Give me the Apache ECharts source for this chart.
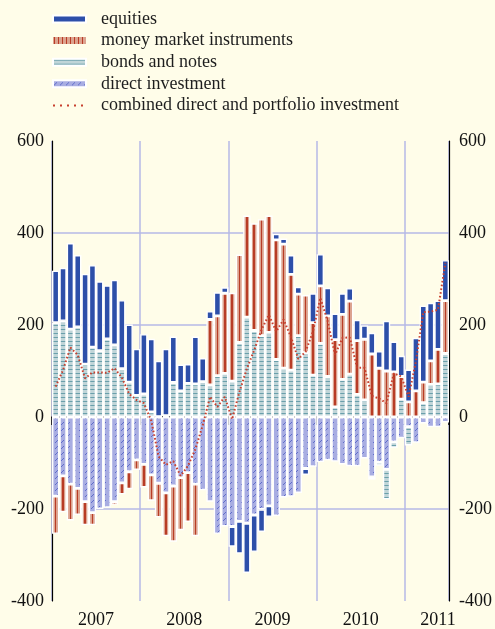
<!DOCTYPE html>
<html>
<head>
<meta charset="utf-8">
<script src="https://cdn.jsdelivr.net/npm/echarts@6/dist/echarts.min.js"></script>
<style>
  html, body { margin: 0; padding: 0; background: #fffde9; }
  #chart { width: 495px; height: 629px; }
</style>
</head>
<body>
<div id="chart"></div>
<script>
// monthly, Jan 2007 .. Jun 2011
var years = [2007, 2008, 2009, 2010, 2011];
var months = [];
years.forEach(function (y) {
  for (var m = 1; m <= 12; m++) {
    if (y === 2011 && m > 6) break;
    months.push(y + '-' + (m < 10 ? '0' + m : m));
  }
});

var equities = [113, 115, 187, 156, 196, 178, 151, 116, 141, 149,
  125, 101, 130, 159, 121, 145, 100, 57, 42, 103,
  51, 18, 51, 13, -44, -70, -108, -80, -49, -24,
  13, 12, 42, 16, -14, 64, 69, 61, 57, 46,
  28, 45, 30, 46, 37, 109, 66, 45, 70, 115,
  166, 126, 106, 88];

var moneyMarket = [-82, -79, -79, -58, -51, -27, 0, 0, -7, -25,
  -38, -22, -50, -56, -74, -94, -121, -114, -107, -113,
  0, 142, 130, 174, 192, 191, 221, 233, 253, 254,
  260, 270, 208, 90, 125, 114, 125, 132, 146, 141,
  159, 117, 132, 137, 106, 100, 98, 49, 33, 57,
  45, 51, 75, 115];

var bonds = [205, 209, 191, 196, 115, 152, 144, 170, 157, 105,
  76, 47, 50, 11, 1, 3, 75, 57, 73, 72,
  77, 70, 90, 95, 78, 162, 217, 188, 177, 184,
  125, 106, 102, 177, 140, 91, 160, 88, 22, 82,
  93, 49, 37, -6, -8, -65, -13, 39, -41, 0,
  31, 71, 72, 138];

var direct = [-172, -128, -146, -155, -184, -208, -200, -197, -184, -143,
  -119, -93, -103, -126, -144, -165, -150, -132, -121, -146,
  -159, -184, -254, -238, -238, -227, -231, -213, -201, -193,
  -215, -175, -173, -165, -112, -108, -98, -94, -97, -103,
  -107, -107, -90, -130, -98, -114, -54, -46, -21, -56,
  -14, -22, -22, -12];

var combined = [66, 102, 151, 135, 84, 97, 97, 96, 106, 86,
  50, 37, 30, -8, -86, -104, -96, -128, -106, -70,
  -18, 44, 22, 44, -5, 55, 105, 145, 190, 222,
  186, 212, 174, 126, 142, 186, 259, 208, 135, 172,
  173, 107, 107, 46, 40, 30, 95, 88, 44, 121,
  228, 229, 233, 335];

// where the year labels sit (month index) and the label text
var yearLabelAt = { 6: '2007', 18: '2008', 30: '2009', 42: '2010', 52: '2011' };

var FONT = 'Liberation Serif';
var GRID = '#b6b9e6';
var LINE_RED = '#c8402e';

function pattern(w, h, bg, draw) {
  var c = document.createElement('canvas');
  c.width = w; c.height = h;
  var ctx = c.getContext('2d');
  ctx.fillStyle = bg;
  ctx.fillRect(0, 0, w, h);
  draw(ctx);
  return { image: c, repeat: 'repeat' };
}

var bondsFill = pattern(4, 4, '#c0d5d8', function (ctx) {
  ctx.fillStyle = '#6a9fab';
  ctx.fillRect(0, 1, 4, 1);
});
var directFill = pattern(6, 6, '#a8ade2', function (ctx) {
  ctx.strokeStyle = '#5865c6';
  ctx.lineWidth = 0.9;
  ctx.beginPath();
  ctx.moveTo(1, 5); ctx.lineTo(4, 2);
  ctx.stroke();
});
var mmiLegendFill = pattern(4, 8, '#dca38f', function (ctx) {
  ctx.fillStyle = '#b83c26';
  ctx.fillRect(1, 0, 1, 8);
});
var mmiFill = {
  type: 'linear', x: 0, y: 0, x2: 1, y2: 0,
  colorStops: [
    { offset: 0, color: '#dca38f' }, { offset: 0.4, color: '#dca38f' },
    { offset: 0.4, color: '#b83c26' }, { offset: 0.6, color: '#b83c26' },
    { offset: 0.6, color: '#dca38f' }, { offset: 1, color: '#dca38f' }
  ]
};

function nz(arr) {
  return arr.map(function (v) { return v === 0 ? '-' : v; });
}

function barSeries(name, data, color) {
  return {
    name: name,
    type: 'bar',
    stack: 'flows',
    barCategoryGap: '0%',
    data: nz(data),
    itemStyle: { color: color, borderColor: '#ffffff', borderWidth: 1.4 },
    emphasis: { disabled: true }
  };
}

var chart = echarts.init(document.getElementById('chart'), null, { renderer: 'canvas' });

chart.setOption({
  backgroundColor: '#fffde9',
  animation: false,
  textStyle: { fontFamily: FONT },
  legend: {
    orient: 'vertical',
    left: 52,
    top: 10,
    padding: 0,
    itemWidth: 33,
    itemHeight: 7,
    itemGap: 3.6,
    textStyle: { fontFamily: FONT, fontSize: 18, color: '#1e1e1e', lineHeight: 18, padding: [0, 0, 0, 10] },
    data: [
      { name: 'equities', icon: 'rect' },
      { name: 'money market instruments', icon: 'rect', itemStyle: { color: mmiLegendFill, borderWidth: 0 } },
      { name: 'bonds and notes', icon: 'rect' },
      { name: 'direct investment', icon: 'rect' },
      {
        name: 'combined direct and portfolio investment',
        itemStyle: { color: 'transparent', opacity: 0, borderWidth: 0 },
        lineStyle: { type: [2, 5], width: 2, color: LINE_RED }
      }
    ]
  },
  grid: { left: 52, right: 43, top: 141, bottom: 28 },
  xAxis: {
    type: 'category',
    data: months,
    boundaryGap: true,
    axisLine: { show: true, lineStyle: { color: '#000', width: 1.5 } },
    axisTick: {
      show: true,
      length: 8,
      interval: function (i) { return i % 12 === 0; },
      lineStyle: { color: '#000', width: 1.5 }
    },
    axisLabel: {
      interval: function (i) { return yearLabelAt[i] !== undefined; },
      formatter: function (v, i) {
        var t = yearLabelAt[i];
        if (!t) return '';
        return i === 52 ? t : '{s|' + t + '}';
      },
      margin: 10,
      fontSize: 18,
      fontFamily: FONT,
      color: '#111',
      rich: { s: { fontSize: 18, fontFamily: FONT, color: '#111', padding: [0, 7.4, 0, 0] } }
    },
    splitLine: {
      show: true,
      interval: function (i) { return i % 12 === 0; },
      lineStyle: { color: GRID, width: 1.5 }
    }
  },
  yAxis: [
    {
      type: 'value',
      min: -400, max: 600, interval: 200,
      position: 'left',
      axisLine: { show: true, lineStyle: { color: '#000', width: 1.2 } },
      axisTick: { show: false },
      axisLabel: { margin: 8, fontSize: 18, fontFamily: FONT, color: '#111' },
      splitLine: { show: true, showMaxLine: false, showMinLine: false, lineStyle: { color: GRID, width: 1.5 } }
    },
    {
      type: 'value',
      min: -400, max: 600, interval: 200,
      position: 'right',
      axisLine: { show: true, lineStyle: { color: '#000', width: 1.2 } },
      axisTick: { show: false },
      axisLabel: { margin: 10, fontSize: 18, fontFamily: FONT, color: '#111' },
      splitLine: { show: false }
    }
  ],
  series: [
    barSeries('direct investment', direct, directFill),
    barSeries('bonds and notes', bonds, bondsFill),
    barSeries('money market instruments', moneyMarket, mmiFill),
    barSeries('equities', equities, '#2d4fa9'),
    {
      name: 'combined direct and portfolio investment',
      type: 'line',
      data: combined,
      symbol: 'none',
      z: 5,
      itemStyle: { color: LINE_RED },
      lineStyle: { color: LINE_RED, width: 2, type: [1.6, 2.2] },
      emphasis: { disabled: true }
    }
  ]
});
</script>
</body>
</html>
